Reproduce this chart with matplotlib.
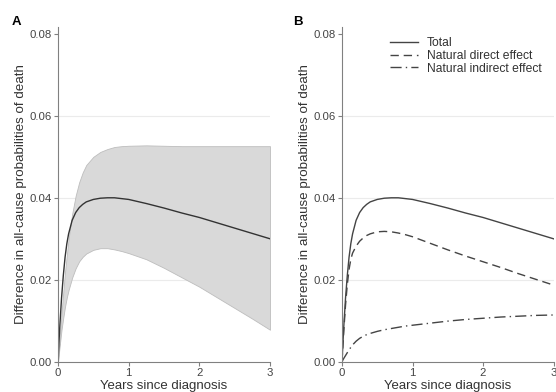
import matplotlib
matplotlib.use("Agg")
import matplotlib.pyplot as plt

plt.rcParams['font.family'] = ['Liberation Sans', 'DejaVu Sans']

# Data
years = [0, 0.025, 0.05, 0.075, 0.1, 0.125, 0.15, 0.2, 0.25, 0.3, 0.35, 0.4, 0.5,
         0.6, 0.7, 0.8, 0.9, 1.0, 1.25, 1.5, 1.75, 2.0, 2.25, 2.5, 2.75, 3.0]
total = [0, 0.0085, 0.0155, 0.021, 0.0255, 0.0288, 0.0312, 0.0345, 0.0364,
         0.0376, 0.0384, 0.0390, 0.0396, 0.0399, 0.0400, 0.0400, 0.0398,
         0.0396, 0.0386, 0.0375, 0.0363, 0.0352, 0.0339, 0.0326, 0.0313, 0.0300]
ci_upper = [0, 0.006, 0.012, 0.017, 0.022, 0.026, 0.030, 0.036, 0.0405, 0.0438,
            0.0462, 0.0480, 0.0500, 0.0512, 0.0519, 0.0524, 0.0526, 0.0527,
            0.0528, 0.0527, 0.0526, 0.0526, 0.0526, 0.0526, 0.0526, 0.0526]
ci_lower = [0, 0.004, 0.0078, 0.0108, 0.0135, 0.0157, 0.0175, 0.0205, 0.0228,
            0.0245, 0.0256, 0.0264, 0.0273, 0.0277, 0.0277, 0.0274, 0.0270,
            0.0265, 0.0250, 0.0229, 0.0206, 0.0183, 0.0157, 0.0131, 0.0105,
            0.0078]
direct = [0, 0.0075, 0.0138, 0.0188, 0.0225, 0.0250, 0.0265, 0.0282, 0.0294,
          0.0302, 0.0308, 0.0312, 0.0317, 0.0318, 0.0317, 0.0314, 0.0310,
          0.0305, 0.0289, 0.0273, 0.0258, 0.0244, 0.0230, 0.0215, 0.0201, 0.0187]
indirect = [0, 0.0008, 0.0015, 0.0022, 0.0029, 0.0035, 0.0041, 0.0050, 0.0057,
            0.0062, 0.0066, 0.0069, 0.0074, 0.0078, 0.0081, 0.0084, 0.0087,
            0.0089, 0.0094, 0.0099, 0.0103, 0.0106, 0.0109, 0.0111, 0.0113,
            0.0114]

xticks = [0, 1, 2, 3]
yticks = [0.00, 0.02, 0.04, 0.06, 0.08]
ytick_labels = ["0.00", "0.02", "0.04", "0.06", "0.08"]

fig = plt.figure(figsize=(5.56, 3.92), dpi=100)
axA = fig.add_axes([58/556, 0.0773, (270-58)/556, 0.854])
axB = fig.add_axes([342/556, 0.0773, (553.5-342)/556, 0.854])

line_col = '#333333'
spine_col = '#808080'

for ax in (axA, axB):
    ax.set_xlim(0, 3)
    ax.set_ylim(0, 0.0817)
    for y in yticks[1:4]:
        ax.axhline(y, color='#ebebeb', lw=0.8, zorder=0)
    ax.spines['top'].set_visible(False)
    ax.spines['right'].set_visible(False)
    ax.spines['left'].set_color(spine_col)
    ax.spines['bottom'].set_color(spine_col)
    ax.spines['left'].set_linewidth(0.8)
    ax.spines['bottom'].set_linewidth(0.8)
    ax.set_xticks(xticks)
    ax.set_yticks(yticks)
    ax.set_yticklabels(ytick_labels)
    ax.tick_params(direction='out', length=3, width=0.8, color=spine_col,
                   labelcolor='#444444', labelsize=8.2, pad=1.5)
    ax.set_xlabel("Years since diagnosis", fontsize=9.5, color='#333333', labelpad=1.5)
    ax.set_ylabel("Difference in all-cause probabilities of death", fontsize=9.6,
                  color='#333333', labelpad=2)

# Panel A
axA.fill_between(years, ci_lower, ci_upper, facecolor='#d9d9d9',
                 edgecolor='#bdbdbd', lw=0.6, zorder=1)
axA.plot(years, total, color=line_col, lw=1.0, zorder=2)

# Panel B
axB.plot(years, total, color='#444444', lw=1.0, label='Total')
axB.plot(years, direct, color='#444444', lw=1.0, dashes=(6, 3.5),
         label='Natural direct effect')
axB.plot(years, indirect, color='#444444', lw=1.0, dashes=(8, 3, 1, 3),
         label='Natural indirect effect')
leg = axB.legend(loc='upper left', bbox_to_anchor=(0.205, 0.985), frameon=False,
                 fontsize=8.7, handlelength=2.3, handletextpad=0.75,
                 labelspacing=0.08, borderaxespad=0)
for t in leg.get_texts():
    t.set_color('#333333')

fig.text(12/556, 1 - 22/392, "A", fontsize=9.5, fontweight='bold', va='center')
fig.text(293/556, 1 - 22/392, "B", fontsize=9.5, fontweight='bold', va='center')

fig.savefig("out.png", dpi=100)
